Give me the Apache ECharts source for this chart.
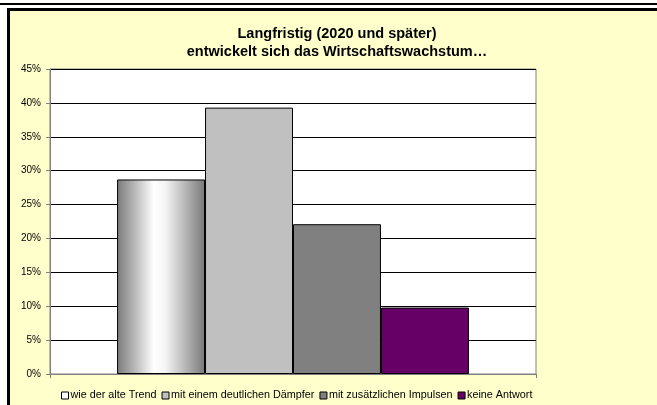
<!DOCTYPE html>
<html><head><meta charset="utf-8">
<script src="https://cdn.jsdelivr.net/npm/echarts@6/dist/echarts.min.js"></script>
<style>html,body{margin:0;padding:0;background:#fff}#c{width:657px;height:405px}</style>
</head><body><div id="c"></div>
<script>
var titleLines = ['Langfristig (2020 und später)', 'entwickelt sich das Wirtschaftswachstum…'];
var categories = [''];
var seriesNames = ['wie der alte Trend', 'mit einem deutlichen Dämpfer', 'mit zusätzlichen Impulsen', 'keine Antwort'];
var seriesValues = [28.7, 39.3, 22.1, 9.8];
var yTicks = [0, 5, 10, 15, 20, 25, 30, 35, 40, 45];

var FONT = '"Liberation Sans", Arial, sans-serif';
var chart = echarts.init(document.getElementById('c'));
var fills = [
  new echarts.graphic.LinearGradient(0, 0, 1, 0, [
    {offset: 0, color: '#7a7a7a'}, {offset: 0.2, color: '#b8b8b8'},
    {offset: 0.42, color: '#ffffff'}, {offset: 0.55, color: '#f4f4f4'},
    {offset: 0.8, color: '#b0b0b0'}, {offset: 1, color: '#787878'}]),
  '#c0c0c0', '#808080', '#660066'
];
var legendColors = ['#ffffff', '#c0c0c0', '#808080', '#660066'];
var series = seriesNames.map(function (n, i) {
  return {
    name: n, type: 'bar', data: [seriesValues[i]],
    barGap: '0%', barCategoryGap: '27.6%',
    itemStyle: {color: fills[i], borderColor: '#000', borderWidth: 1},
    emphasis: {disabled: true}
  };
});
chart.setOption({
  backgroundColor: '#ffffff',
  animation: false,
  graphic: [
    {type: 'rect', shape: {x: 10, y: 11, width: 647, height: 394}, style: {fill: '#ffffcc'}, z: -10},
    {type: 'rect', shape: {x: 0, y: 3, width: 657, height: 2}, style: {fill: '#000'}},
    {type: 'rect', shape: {x: 7, y: 8, width: 650, height: 3}, style: {fill: '#000'}},
    {type: 'rect', shape: {x: 7, y: 8, width: 3, height: 397}, style: {fill: '#000'}},
    {type: 'text', x: 337, y: 33.5, style: {text: titleLines[0], textAlign: 'center', textVerticalAlign: 'middle', font: 'bold 14.5px ' + FONT, fill: '#000'}},
    {type: 'text', x: 337, y: 51.5, style: {text: titleLines[1], textAlign: 'center', textVerticalAlign: 'middle', font: 'bold 14.5px ' + FONT, fill: '#000'}}
  ],
  grid: {left: 50, right: 121, top: 69, bottom: 31, show: true, backgroundColor: '#fff', borderColor: '#808080', borderWidth: 1},
  legend: {
    left: 59, top: 388, padding: 2, itemWidth: 7, itemHeight: 7, itemGap: 5,
    textStyle: {fontFamily: FONT, fontSize: 10.8, color: '#000', padding: [0, 0, 0, -3]},
    data: seriesNames.map(function (n, i) {
      return {name: n, icon: 'rect', itemStyle: {color: legendColors[i], borderColor: '#000', borderWidth: 1}};
    })
  },
  xAxis: {
    type: 'category', data: categories,
    axisLine: {lineStyle: {color: '#808080', width: 1}},
    axisTick: {show: true, length: 4, lineStyle: {color: '#808080'}},
    axisLabel: {show: false}
  },
  yAxis: {
    type: 'value', min: 0, max: 45, interval: 5,
    axisLine: {show: true, lineStyle: {color: '#808080'}},
    axisTick: {show: true, length: 4, lineStyle: {color: '#808080'}},
    axisLabel: {fontFamily: FONT, fontSize: 10, color: '#000', margin: 9,
      formatter: function (v) { return yTicks.indexOf(v) >= 0 ? v + '%' : ''; }},
    splitLine: {lineStyle: {color: '#000', width: 1}}
  },
  series: series
});
</script></body></html>
